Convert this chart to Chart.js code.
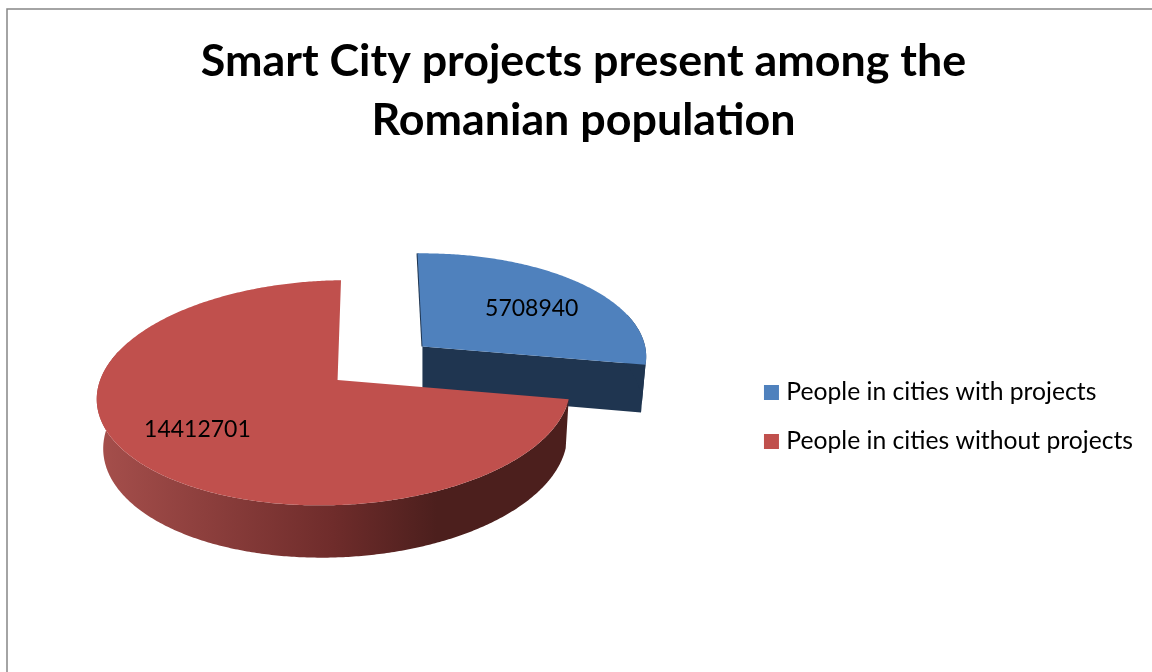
<!DOCTYPE html>
<html>

<head>
    <title>Smart City projects</title>
    <style>
        html, body { margin: 0; padding: 0; background: #fff; overflow: hidden; }
    </style>
</head>

<body>
    <canvas id="myChart" width="1152" height="672"></canvas>
    <script src="https://cdn.jsdelivr.net/npm/chart.js@4"></script>

    <script type="text/javascript">
        const categories = ['People in cities with projects', 'People in cities without projects'];
        const population = [5708940, 14412701];
        const titleLines = ['Smart City projects present among the', 'Romanian population'];

        const topColors = ['#4F81BD', '#C0504D'];

        // fake 3D: the library gives centre, radius and angles, this camera tilts them
        const camera = { tilt: 0.4655, k: 0.11, m: 0.015, b: 1, c: -4, depth: 48, shrink: 0.98, pivotX: 420, nudgeX: -3.5, nudgeY: -54 };

        function project(el, u, v) {
            const r = el.outerRadius;
            const w = 1 - camera.k * v + camera.m * u;
            return {
                x: el.x + camera.nudgeX + (r * u + camera.b * v) / w,
                y: el.y + camera.nudgeY + (r * camera.tilt * v + camera.c * u) / w,
                w: w
            };
        }

        function lower(p) {
            return {
                x: camera.pivotX + (p.x - camera.pivotX) * camera.shrink,
                y: p.y + camera.depth * (1 + 0.6 * (1 / p.w - 1))
            };
        }

        function rimPoints(el, explode) {
            const mid = (el.startAngle + el.endAngle) / 2;
            const ox = Math.cos(mid) * explode;
            const oy = Math.sin(mid) * explode;
            const pts = [];
            const front = [];
            const n = Math.ceil((el.endAngle - el.startAngle) / 0.01);
            for (let i = 0; i <= n; i++) {
                const a = el.startAngle + (el.endAngle - el.startAngle) * i / n;
                const p = project(el, ox + Math.cos(a), oy + Math.sin(a));
                pts.push(p);
                if (Math.sin(a) > -0.3) front.push(p);
            }
            return { apex: project(el, ox, oy), pts: pts, front: front, ox: ox, oy: oy };
        }

        function fillPoly(ctx, pts, fill) {
            ctx.beginPath();
            pts.forEach((p, i) => i ? ctx.lineTo(p.x, p.y) : ctx.moveTo(p.x, p.y));
            ctx.closePath();
            ctx.fillStyle = fill;
            ctx.fill();
        }

        const pie3d = {
            id: 'pie3d',
            beforeDraw(chart) {
                const ctx = chart.ctx;
                ctx.save();
                ctx.strokeStyle = '#868686';
                ctx.lineWidth = 1.5;
                ctx.strokeRect(7, 9, 1300, 800);
                ctx.restore();
            },
            beforeDatasetsDraw(chart) {
                const ctx = chart.ctx;
                const arcs = chart.getDatasetMeta(0).data;
                const shapes = arcs.map(el => rimPoints(el, el.options.offset / 100));

                // red wall shading runs across the whole rim
                const xs = shapes[1].pts.map(p => p.x);
                const left = Math.min(...xs), right = Math.max(...xs);
                const wall = ctx.createLinearGradient(left, 0, right, 0);
                wall.addColorStop(0, '#A64F4C');
                wall.addColorStop(0.5, '#6F2C2B');
                wall.addColorStop(0.72, '#4C1F1D');
                wall.addColorStop(1, '#4C1F1D');
                const wallFills = ['#1F3550', wall];

                ctx.save();
                shapes.forEach((s, i) => {
                    if (i === 0) {
                        const last = s.pts[s.pts.length - 1];
                        fillPoly(ctx, [s.apex, last, lower(last), lower(s.apex)], wallFills[0]);
                    }
                    fillPoly(ctx, s.front.concat(s.front.map(lower).reverse()), wallFills[i]);
                    if (i === 0) {
                        ctx.beginPath();
                        ctx.moveTo(s.pts[0].x, s.pts[0].y);
                        ctx.lineTo(s.apex.x, s.apex.y);
                        ctx.strokeStyle = '#1F3550';
                        ctx.lineWidth = 2;
                        ctx.stroke();
                    }
                    fillPoly(ctx, [s.apex].concat(s.pts), topColors[i]);
                });

                // value labels
                ctx.fillStyle = '#000';
                ctx.font = '23px Lato';
                ctx.textAlign = 'center';
                ctx.textBaseline = 'middle';
                const labelAt = [0.6, 0.75];
                const labelNudge = [[11, 1], [8, -9]];
                arcs.forEach((el, i) => {
                    const mid = (el.startAngle + el.endAngle) / 2;
                    const p = project(el,
                        shapes[i].ox + Math.cos(mid) * labelAt[i],
                        shapes[i].oy + Math.sin(mid) * labelAt[i]);
                    ctx.fillText(String(population[i]), p.x + labelNudge[i][0], p.y + labelNudge[i][1]);
                });
                ctx.restore();
                return false;
            }
        };

        new Chart(document.getElementById('myChart').getContext('2d'), {
            type: 'pie',
            data: {
                labels: categories,
                datasets: [{
                    data: population,
                    backgroundColor: topColors,
                    borderWidth: 0,
                    offset: 23.8,
                    radius: 230
                }]
            },
            plugins: [pie3d],
            options: {
                responsive: false,
                animation: false,
                layout: { padding: { left: 24, right: 9, top: 0, bottom: 0 } },
                plugins: {
                    tooltip: { enabled: false },
                    title: {
                        display: true,
                        text: titleLines,
                        color: '#000',
                        font: { family: 'Lato', weight: 'bold', size: 44.8, lineHeight: 1.317 },
                        padding: { top: 32, bottom: 12 }
                    },
                    legend: {
                        position: 'right',
                        fullSize: false,
                        labels: {
                            color: '#000',
                            font: { family: 'Lato', size: 24.7 },
                            boxWidth: 5,
                            boxHeight: 5,
                            padding: 24.3,
                            // thick stroke makes a 15px swatch while keeping the text close to it
                            generateLabels(chart) {
                                return Chart.overrides.pie.plugins.legend.labels.generateLabels(chart).map(item => {
                                    item.strokeStyle = item.fillStyle;
                                    item.lineWidth = 10;
                                    return item;
                                });
                            }
                        }
                    }
                }
            }
        });
    </script>
</body>

</html>
